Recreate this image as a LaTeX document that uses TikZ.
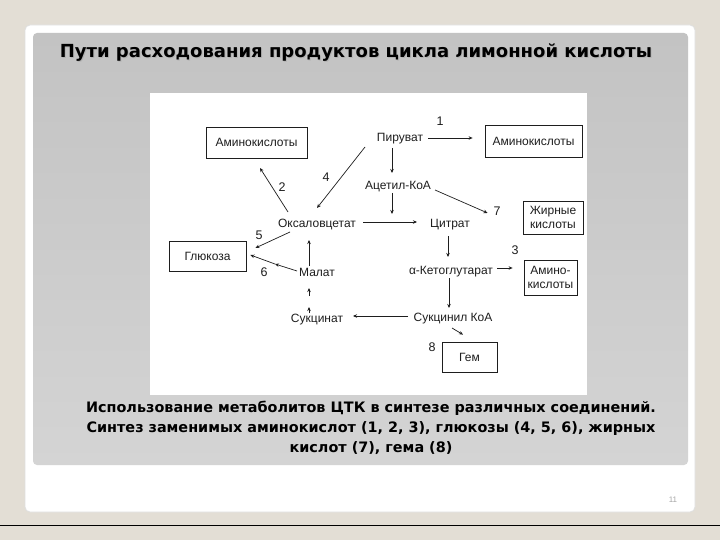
\documentclass[tikz,border=0pt]{standalone}
\usepackage{fontspec}
\setmainfont{Liberation Sans}
\newfontfamily\headfont{DejaVu Sans}
\usetikzlibrary{arrows.meta,calc}
\definecolor{bgbeige}{RGB}{227,222,213}
\definecolor{panelgray}{RGB}{195,195,195}
\definecolor{panelgraylow}{RGB}{212,212,212}
\definecolor{ink}{RGB}{30,30,30}
\tikzset{
  lab/.style={font=\fontsize{12}{14}\selectfont, text=ink, inner sep=1pt},
  num/.style={font=\fontsize{12.5}{14}\selectfont, text=ink, inner sep=0pt},
  boxn/.style={draw=ink, line width=0.8pt, font=\fontsize{12}{14}\selectfont, text=ink, inner sep=0pt, align=center},
  arr/.style={draw=ink, line width=0.7pt, -{Stealth[length=4pt,width=3.5pt]}},
}
\begin{document}
\begin{tikzpicture}[x=1pt,y=-1pt]
\useasboundingbox (0,0) rectangle (720,540);
\fill[bgbeige] (0,0) rectangle (720,540);
% card and panel
\fill[white, draw=gray!25, line width=0.8pt, rounded corners=5pt] (25,25) rectangle (695,512);
\shade[top color=panelgray, bottom color=panelgraylow, rounded corners=4pt] (33,33) rectangle (688,465);
\fill[white] (150,93) rectangle (587,395);
\draw[black, line width=1pt] (0,525) -- (720,525);
% title
\node[font=\headfont\bfseries\fontsize{18}{20}\selectfont, text=gray!70, opacity=0.6] at (357,54) {Пути расходования продуктов цикла лимонной кислоты};
\node[font=\headfont\bfseries\fontsize{18}{20}\selectfont, text=black] (title) at (356,53) {Пути расходования продуктов цикла лимонной кислоты};
% page number
\node[font=\fontsize{8}{9}\selectfont, text=gray!70] (pg) at (673,500) {11};
% caption
\node[font=\headfont\bfseries\fontsize{14.4}{20}\selectfont, text=black, align=center] (cap) at (371,428) {Использование метаболитов ЦТК в синтезе различных соединений.\\Синтез заменимых аминокислот (1, 2, 3), глюкозы (4, 5, 6), жирных\\кислот (7), гема (8)};
% metabolites
\node[lab] (pyr) at (400,139) {Пируват};
\node[lab] (acoa) at (398,187) {Ацетил-КоА};
\node[lab] (oxa) at (317,225) {Оксаловцетат};
\node[lab] (cit) at (450,225) {Цитрат};
\node[lab] (akg) at (451,272) {α-Кетоглутарат};
\node[lab] (mal) at (317,272) {Малат};
\node[lab] (suc) at (317,320) {Сукцинат};
\node[lab] (sucoa) at (453,319) {Сукцинил КоА};
% boxes
\node[boxn, minimum width=101, minimum height=31] (aa1) at (256.5,142.5) {Аминокислоты};
\node[boxn, minimum width=97, minimum height=32] (aa2) at (533.5,141.5) {Аминокислоты};
\node[boxn, minimum width=60, minimum height=33] (fa) at (553,217.5) {Жирные\\кислоты};
\node[boxn, minimum width=53, minimum height=35] (aa3) at (550.5,277.5) {Амино-\\кислоты};
\node[boxn, minimum width=77, minimum height=30] (glc) at (207.5,256.5) {Глюкоза};
\node[boxn, minimum width=55, minimum height=30] (heme) at (469.5,357) {Гем};
% numbers
\node[num] (n1) at (440,121) {1};
\node[num] (n2) at (282,187) {2};
\node[num] (n3) at (515,250) {3};
\node[num] (n4) at (326,177) {4};
\node[num] (n5) at (259,235) {5};
\node[num] (n6) at (264,272) {6};
\node[num] (n7) at (497,211) {7};
\node[num] (n8) at (432,347) {8};
% connectors
\draw[arr] ($(pyr)+(28,-1)$) -- ($(aa2.west)+(-12,-3.5)$);
\draw[arr] ($(pyr)+(-8,9)$) -- ($(acoa)+(-6,-14)$);
\draw[arr] ($(acoa)+(-6,6)$) -- ($(acoa)+(-6,27)$);
\draw[arr] ($(oxa)+(46,-3)$) -- ($(cit)+(-33,-3)$);
\draw[arr] ($(acoa)+(37,3)$) -- ($(fa.west)+(-35,-4.5)$);
\draw[arr] ($(cit)+(-2,11)$) -- ($(akg)+(-3,-15)$);
\draw[arr] ($(akg)+(46,-4)$) -- ($(aa3.west)+(-11,-9.5)$);
\draw[arr] ($(akg)+(-2,6)$) -- ($(sucoa)+(-4,-11)$);
\draw[arr] ($(sucoa)+(-45,-3)$) -- ($(suc)+(36,-4)$);
\draw[arr] ($(suc)+(-8,-7)$) -- ($(suc)+(-8,-13)$);
\draw[arr] ($(mal)+(-8,24)$) -- ($(mal)+(-8,16)$);
\draw[arr] ($(mal)+(-8,-6)$) -- ($(oxa)+(-8,15)$);
\draw[arr] ($(oxa)+(-29,-13)$) -- ($(aa1)+(3.5,25.5)$);
\draw[arr] ($(pyr)+(-35,8)$) -- ($(oxa)+(0,-17)$);
\draw[arr] ($(oxa)+(-27,7)$) -- ($(glc.east)+(9,-8.5)$);
\draw[arr] ($(mal)+(-20,-1)$) -- ($(mal)+(-42,-8)$);
\draw[arr] ($(mal)+(-42,-8)$) -- ($(glc.east)+(4,-1.5)$);
\draw[arr] ($(sucoa)+(-1,9)$) -- ($(heme.north)+(-6.5,-7)$);
\end{tikzpicture}
\end{document}
